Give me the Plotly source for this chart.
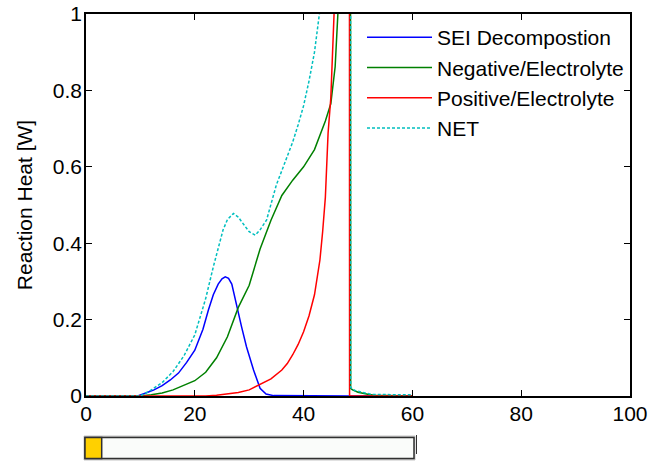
import plotly.graph_objects as go

# Reaction heat of the thermal-runaway sub-reactions versus time
x_sei = [0, 9.5, 11, 12.5, 14, 15.5, 17, 18.5, 20, 21.5, 22.5, 23.4, 24.3, 25,
         25.6, 26.2, 26.8, 27.7, 28.6, 29.5, 30.8, 32, 33.1, 34.5, 40, 48.5, 60]
y_sei = [0, 0, 0.008, 0.016, 0.027, 0.042, 0.06, 0.088, 0.12, 0.175, 0.225,
         0.265, 0.293, 0.307, 0.312, 0.308, 0.293, 0.234, 0.181, 0.129, 0.068,
         0.02, 0.005, 0.001, 0, 0, 0]

x_neg = [0, 10, 12, 14, 16, 18, 20, 22, 24, 26, 28, 30, 32, 34, 36, 38, 40, 42,
         43, 44, 45, 45.8, 46.3, 47, 48.6, 48.65, 49, 50, 51, 52, 53, 60]
y_neg = [0, 0, 0.003, 0.008, 0.016, 0.027, 0.04, 0.062, 0.1, 0.155, 0.232, 0.29,
         0.385, 0.46, 0.525, 0.565, 0.6, 0.645, 0.68, 0.72, 0.765, 0.862, 1.0,
         1.3, 2.0, 0.02, 0.016, 0.01, 0.006, 0.004, 0.002, 0]

x_pos = [0, 22, 24, 26, 28, 30, 32, 34, 36, 37, 38, 39, 40, 41, 42, 42.5, 43,
         43.5, 44, 44.5, 45, 45.6, 46.5, 48.4, 48.45, 60]
y_pos = [0, 0, 0.002, 0.005, 0.009, 0.016, 0.03, 0.045, 0.068, 0.085, 0.108,
         0.135, 0.168, 0.21, 0.265, 0.305, 0.356, 0.43, 0.52, 0.688, 0.78, 1.0,
         1.4, 2.5, 0, 0]

x_net = [0, 10, 12, 14, 16, 18, 20, 22, 23.4, 24, 25.2, 26, 27.1, 28, 28.9, 30,
         31.1, 32, 33.2, 34, 35, 36, 37, 38, 39, 40, 41, 42, 42.9, 44, 46, 48.6,
         48.65, 49.5, 51, 52.5, 60]
y_net = [0, 0, 0.016, 0.035, 0.064, 0.105, 0.16, 0.255, 0.338, 0.37, 0.435,
         0.462, 0.478, 0.468, 0.452, 0.43, 0.421, 0.435, 0.461, 0.5, 0.553, 0.59,
         0.628, 0.665, 0.71, 0.76, 0.825, 0.9, 1.0, 1.25, 2.0, 4.0, 0.022, 0.014,
         0.008, 0.004, 0.003]

x_ticks = [0, 20, 40, 60, 80, 100]
y_ticks = [0, 0.2, 0.4, 0.6, 0.8, 1]
y_tick_text = ["0", "0.2", "0.4", "0.6", "0.8", "1"]

FONT = "Liberation Sans, Arial, sans-serif"
FS = 21

fig = go.Figure()
series = [
    ("SEI Decompostion", x_sei, y_sei, "#0000FF", "solid"),
    ("Negative/Electrolyte", x_neg, y_neg, "#008000", "solid"),
    ("Positive/Electrolyte", x_pos, y_pos, "#FF0000", "solid"),
    ("NET", x_net, y_net, "#00BFBF", "3px,2px"),
]
for name, xs, ys, color, dash in series:
    fig.add_trace(go.Scatter(
        x=xs, y=ys, mode="lines", name=name, legendgroup=name,
        line=dict(color=color, width=1.5, dash=dash),
    ))

# plot-area geometry in pixels, used to place the time slider below the axes
L, R, T, B = 86, 630, 14, 396
W, H = 650, 463


def px(xp):
    return (xp - L) / (R - L)


def py(yp):
    return (B - yp) / (B - T)


shapes = [
    # slider trough
    dict(type="rect", xref="paper", yref="paper", x0=px(84), x1=px(415),
         y0=py(436), y1=py(460), line=dict(color="#c4c4c4", width=1),
         fillcolor="#c4c4c4", layer="above"),
    dict(type="rect", xref="paper", yref="paper", x0=px(85), x1=px(414),
         y0=py(437.5), y1=py(458.5), line=dict(color="#303030", width=1.5),
         fillcolor="#fafcfa", layer="above"),
    # slider thumb
    dict(type="rect", xref="paper", yref="paper", x0=px(85), x1=px(101.7),
         y0=py(437.5), y1=py(458.5), line=dict(color="#303030", width=1.5),
         fillcolor="#FFD000", layer="above"),
    dict(type="line", xref="paper", yref="paper", x0=px(416.5), x1=px(416.5),
         y0=py(435), y1=py(454), line=dict(color="#303030", width=1),
         layer="above"),
]

axis_common = dict(
    showgrid=False, zeroline=False, showline=True, linecolor="black",
    linewidth=1.5, mirror="ticks", ticks="inside", ticklen=6, tickwidth=1,
    tickcolor="black", automargin=False,
    tickfont=dict(family=FONT, size=FS, color="black"),
)

fig.update_layout(
    width=W, height=H,
    margin=dict(l=L, r=W - R, t=T, b=H - B),
    paper_bgcolor="white", plot_bgcolor="white",
    font=dict(family=FONT, size=FS, color="black"),
    xaxis=dict(range=[0, 100], tickvals=x_ticks, ticklabelstandoff=-2,
               **axis_common),
    yaxis=dict(range=[0, 1], tickvals=y_ticks, ticktext=y_tick_text,
               ticklabelstandoff=-2,
               title=dict(text="Reaction Heat [W]",
                          font=dict(family=FONT, size=FS), standoff=14),
               **axis_common),
    showlegend=True,
    legend=dict(x=px(362), y=py(17), xanchor="left", yanchor="top",
                bgcolor="rgba(0,0,0,0)", borderwidth=0, itemwidth=65,
                tracegroupgap=0, traceorder="grouped",
                font=dict(family=FONT, size=FS, color="black")),
    shapes=shapes,
)

fig.write_html("out.html")
